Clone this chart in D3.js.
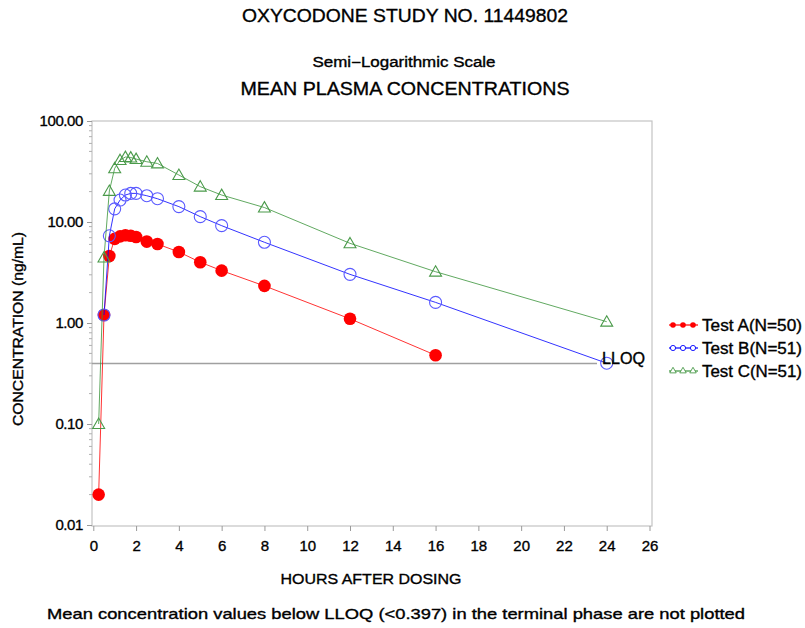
<!DOCTYPE html>
<html>
<head>
<meta charset="utf-8">
<script src="https://cdn.jsdelivr.net/npm/d3@7"></script>
<style>
  html, body { margin: 0; padding: 0; background: #fff; }
  svg { display: block; font-family: "Liberation Sans", Arial, sans-serif; }
  svg text { stroke: #000; stroke-width: 0.35px; }
</style>
</head>
<body>
<svg id="chart" width="805" height="628"></svg>
<script>
// Sampling times (hours after dosing)
const hours = [0.25, 0.5, 0.75, 1, 1.25, 1.5, 1.75, 2, 2.5, 3, 4, 5, 6, 8, 12, 16, 24];

// Mean plasma concentrations (ng/mL); null = not plotted
const testA = [0.02, 1.2, 4.6, 6.8, 7.2, 7.4, 7.3, 7.1, 6.4, 6.05, 5.05, 4.0, 3.3, 2.33, 1.1, 0.48, null];
const testB = [null, 1.2, 7.3, 13.5, 16.5, 18.5, 19.2, 19.2, 18.2, 17.0, 14.2, 11.3, 9.2, 6.3, 3.03, 1.6, 0.40];
const testC = [0.1, 4.45, 20.3, 34, 41, 44, 43.5, 42, 39.5, 38, 29.2, 22.4, 18.5, 13.9, 6.15, 3.22, 1.03];

const seriesNames = ["Test A(N=50)", "Test B(N=51)", "Test C(N=51)"];
const seriesColors = ["#ff0000", "#0000ff", "#3a933a"];

const lloq = 0.397;
const xTicks = d3.range(0, 27, 2);
const yTicks = [0.01, 0.1, 1, 10, 100];
const yTickLabels = ["0.01", "0.10", "1.00", "10.00", "100.00"];

const svg = d3.select("#chart");

const frame = { left: 92, right: 652, top: 121, bottom: 526 };
const x = d3.scaleLinear().domain([0, 26]).range([93.3, 649.5]);
const y = d3.scaleLog().domain([0.01, 100]).range([525, 121]);

// Titles
svg.append("text").attr("x", 405).attr("y", 22).attr("text-anchor", "middle")
  .attr("font-size", 19).attr("textLength", 326).attr("lengthAdjust", "spacingAndGlyphs")
  .text("OXYCODONE STUDY NO. 11449802");
svg.append("text").attr("x", 404).attr("y", 67).attr("text-anchor", "middle")
  .attr("font-size", 14).attr("textLength", 183).attr("lengthAdjust", "spacingAndGlyphs")
  .text("Semi\u2212Logarithmic Scale");
svg.append("text").attr("x", 405).attr("y", 95).attr("text-anchor", "middle")
  .attr("font-size", 19).attr("textLength", 329).attr("lengthAdjust", "spacingAndGlyphs")
  .text("MEAN PLASMA CONCENTRATIONS");

// Plot frame
svg.append("rect")
  .attr("x", frame.left).attr("y", frame.top)
  .attr("width", frame.right - frame.left).attr("height", frame.bottom - frame.top)
  .attr("fill", "none").attr("stroke", "#c4c4c4").attr("stroke-width", 1.2);

// X axis
const xAxis = d3.axisBottom(x).tickValues(xTicks).tickSize(5).tickPadding(9).tickFormat(d3.format("d"));
const gx = svg.append("g").attr("transform", `translate(0,${frame.bottom})`).call(xAxis);
gx.select(".domain").remove();
gx.selectAll(".tick line").attr("stroke", "#9a9a9a");
gx.selectAll(".tick text").attr("font-size", 15).attr("fill", "#000")
  .attr("font-family", "'Liberation Sans', Arial, sans-serif");

// Y axis with minor ticks
const minor = [];
for (let e = -2; e < 2; e++) for (let m = 2; m <= 9; m++) minor.push(m * Math.pow(10, e));
svg.append("g").selectAll("line").data(minor).join("line")
  .attr("x1", frame.left - 3).attr("x2", frame.left)
  .attr("y1", d => y(d)).attr("y2", d => y(d))
  .attr("stroke", "#b0b0b0").attr("stroke-width", 1);

const yAxis = d3.axisLeft(y).tickValues(yTicks).tickSize(5).tickPadding(4)
  .tickFormat((d, i) => yTickLabels[i]);
const gy = svg.append("g").attr("transform", `translate(${frame.left},0)`).call(yAxis);
gy.select(".domain").remove();
gy.selectAll(".tick line").attr("stroke", "#9a9a9a");
gy.selectAll(".tick text").attr("font-size", 15).attr("fill", "#000")
  .attr("font-family", "'Liberation Sans', Arial, sans-serif").attr("letter-spacing", -0.4);

// Axis titles
svg.append("text").attr("x", 371).attr("y", 584).attr("text-anchor", "middle")
  .attr("font-size", 15).attr("textLength", 181).attr("lengthAdjust", "spacingAndGlyphs")
  .text("HOURS AFTER DOSING");
svg.append("text").attr("transform", "translate(23,329) rotate(-90)").attr("text-anchor", "middle")
  .attr("font-size", 15).attr("textLength", 194).attr("lengthAdjust", "spacingAndGlyphs")
  .text("CONCENTRATION (ng/mL)");

// Footnote
svg.append("text").attr("x", 396).attr("y", 619).attr("text-anchor", "middle")
  .attr("font-size", 15).attr("textLength", 698).attr("lengthAdjust", "spacingAndGlyphs")
  .text("Mean concentration values below LLOQ (<0.397) in the terminal phase are not plotted");

// LLOQ reference line
svg.append("line")
  .attr("x1", frame.left).attr("x2", 597)
  .attr("y1", y(lloq)).attr("y2", y(lloq))
  .attr("stroke", "#a0a0a0").attr("stroke-width", 1.6);

// Series
const allSeries = [testA, testB, testC];
const line = d3.line().defined(d => d.v != null).x(d => x(d.t)).y(d => y(d.v));
const tri = d3.symbol().type(d3.symbolTriangle).size(62);

allSeries.forEach((vals, si) => {
  const pts = hours.map((t, i) => ({ t, v: vals[i] })).filter(d => d.v != null);
  const col = seriesColors[si];
  const g = svg.append("g");
  g.append("path").datum(pts).attr("d", line)
    .attr("fill", "none").attr("stroke", col).attr("stroke-width", 1).attr("stroke-opacity", 0.8);
  if (si === 0) {
    g.selectAll("circle").data(pts).join("circle")
      .attr("cx", d => x(d.t)).attr("cy", d => y(d.v)).attr("r", 6.3)
      .attr("fill", col);
  } else if (si === 1) {
    g.selectAll("circle").data(pts).join("circle")
      .attr("cx", d => x(d.t)).attr("cy", d => y(d.v)).attr("r", 6)
      .attr("fill", "none").attr("stroke", "#5a5aff").attr("stroke-width", 1.1);
  } else {
    g.selectAll("path.m").data(pts).join("path").attr("class", "m")
      .attr("transform", d => `translate(${x(d.t)},${y(d.v) + 1})`)
      .attr("d", tri).attr("fill", "none").attr("stroke", "#4a9a4a").attr("stroke-width", 1.1);
  }
});

// LLOQ label
svg.append("text").attr("x", 602).attr("y", 364)
  .attr("font-size", 16).attr("textLength", 43).attr("lengthAdjust", "spacingAndGlyphs")
  .text("LLOQ");

// Legend
const legY = [325, 348, 371];
const legTri = d3.symbol().type(d3.symbolTriangle).size(18);
seriesNames.forEach((name, i) => {
  const g = svg.append("g").attr("transform", `translate(0,${legY[i]})`);
  g.append("line").attr("x1", 669).attr("x2", 698).attr("y1", 0).attr("y2", 0)
    .attr("stroke", seriesColors[i]).attr("stroke-width", 1.2);
  [673, 683, 693].forEach(cx => {
    if (i === 0) g.append("circle").attr("cx", cx).attr("cy", 0).attr("r", 2.8).attr("fill", seriesColors[0]);
    else if (i === 1) g.append("circle").attr("cx", cx).attr("cy", 0).attr("r", 2.6)
      .attr("fill", "#fff").attr("stroke", seriesColors[1]).attr("stroke-width", 0.9);
    else g.append("path").attr("transform", `translate(${cx},0)`).attr("d", legTri)
      .attr("fill", "#fff").attr("stroke", "#4a9a4a").attr("stroke-width", 0.9);
  });
  g.append("text").attr("x", 702).attr("y", 6).attr("font-size", 16)
    .attr("textLength", 100).attr("lengthAdjust", "spacingAndGlyphs").text(name);
});
</script>
</body>
</html>
